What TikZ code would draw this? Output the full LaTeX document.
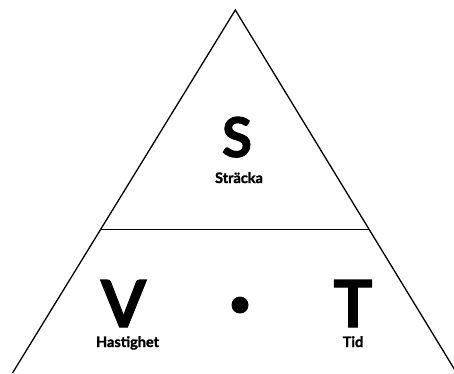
\documentclass[tikz,border=0pt]{standalone}
\usepackage{fontspec}
\setmainfont{Lato}[BoldFeatures={FakeBold=1.6}]
\usetikzlibrary{positioning}

\begin{document}
\begin{tikzpicture}[x=1pt, y=-1pt,
  bigletter/.style={anchor=base, inner sep=0pt, font=\fontsize{65}{65}\selectfont\bfseries},
  smallword/.style={anchor=base, inner sep=0pt, font=\fontsize{14.5}{15}\selectfont\bfseries},
  edge/.style={line width=1.3pt, line join=miter}
]
\useasboundingbox (0,0) rectangle (454,373);
\clip (0,0) rectangle (454,373);

% triangle
\coordinate (apex) at (235.3,10);
\coordinate (bl) at (12.5,373);
\coordinate (br) at (456.7,373);
\coordinate (ml) at (100.7,229.3);
\coordinate (mr) at (369.6,229.3);
\draw[edge] (bl) -- (apex) -- (br);
\draw[edge] (ml) -- (mr);

% top part
\node[bigletter, font=\fontsize{55}{55}\selectfont\bfseries] (s) at (237,157) {S};
\node[smallword] (stracka) at (239,183) {Sträcka};

% bottom part
\node[bigletter] (v) at (123.5,327) {V};
\node[smallword] (hastighet) at (127.5,347) {Hastighet};
\node[circle, fill=black, inner sep=0pt, minimum size=17pt] (dot) at (240,305) {};
\node[bigletter] (t) at (353,327) {T};
\node[smallword] (tid) at (353,347) {Tid};
\end{tikzpicture}
\end{document}
